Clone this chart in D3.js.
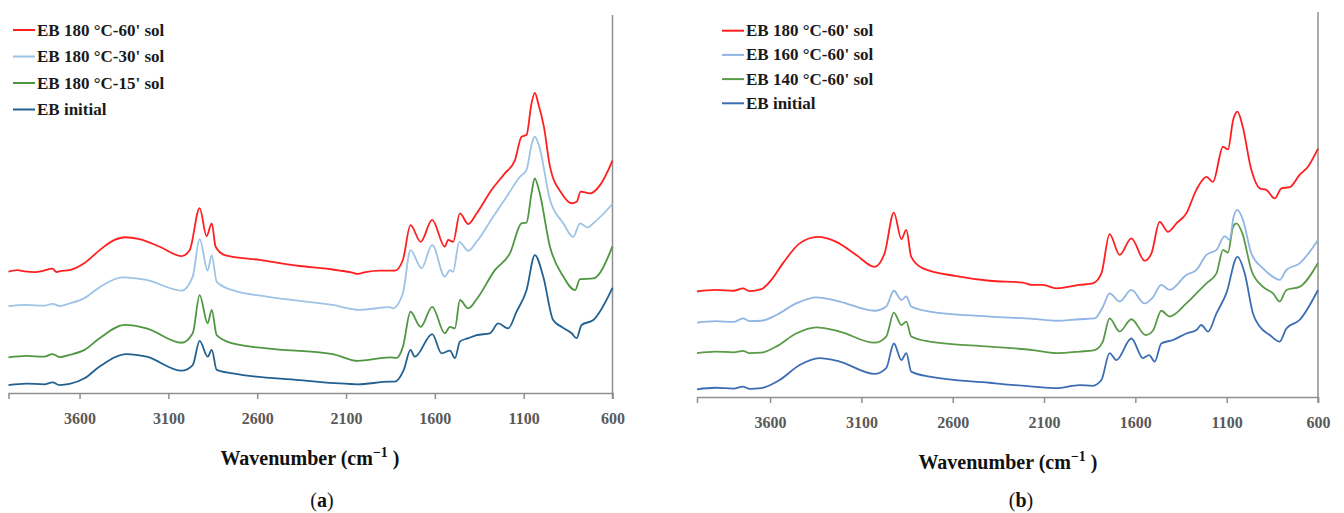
<!DOCTYPE html>
<html>
<head>
<meta charset="utf-8">
<script src="https://cdn.jsdelivr.net/npm/d3@7"></script>
<style>
  body { margin: 0; background: #fff; }
  svg { display: block; font-family: "Liberation Serif", "DejaVu Serif", serif; }
</style>
</head>
<body>
<script>
// tick labels shared by both panels
const tickValues = [3600, 3100, 2600, 2100, 1600, 1100, 600];

// legend labels, top to bottom
const labelsA = ["EB 180 °C-60' sol", "EB 180 °C-30' sol", "EB 180 °C-15' sol", "EB initial"];
const labelsB = ["EB 180 °C-60' sol", "EB 160 °C-60' sol", "EB 140 °C-60' sol", "EB initial"];

const colorsA = ["#ff1f1f", "#9dc3e6", "#4e9640", "#22618f"];
const colorsB = ["#ff1f1f", "#91b5e4", "#5a9a48", "#3c6db3"];

// spectra: [wavenumber cm-1, offset absorbance (a.u.)]
const a60 = [[4000,32.1],[3950,32.5],[3910,32.2],[3850,32.0],[3800,32.4],[3752,32.9],[3730,32.0],[3713,32.2],[3656,32.5],[3572,34.4],[3487,37.8],[3403,40.5],[3346,41.2],[3262,40.7],[3149,38.7],[3025,36.2],[2980,37.8],[2924,48.9],[2885,41.5],[2856,44.9],[2834,38.7],[2783,36.5],[2586,35.2],[2361,33.6],[2192,32.8],[2135,32.4],[2070,31.9],[2034,31.5],[1990,32.0],[1910,32.4],[1825,32.4],[1780,35.2],[1737,44.4],[1680,40.0],[1615,45.8],[1544,38.7],[1525,40.5],[1497,40.0],[1459,47.5],[1412,44.7],[1365,47.5],[1281,53.7],[1206,58.1],[1149,61.6],[1112,67.8],[1084,68.3],[1056,76.6],[1037,79.4],[1018,76.6],[986,70.4],[952,59.9],[886,52.8],[830,50.2],[802,50.6],[779,53.3],[727,52.8],[670,55.0],[600,61.5]];
const a30 = [[4000,23.0],[3900,23.3],[3800,23.1],[3752,23.6],[3713,23.0],[3656,23.7],[3572,25.1],[3487,28.0],[3358,30.6],[3223,29.9],[3025,27.1],[2963,30.8],[2924,40.7],[2879,32.4],[2856,36.5],[2828,29.4],[2738,27.2],[2546,25.5],[2175,23.3],[2023,22.0],[1854,22.7],[1837,22.4],[1780,26.4],[1737,37.8],[1675,33.0],[1615,39.2],[1544,30.8],[1515,32.5],[1497,32.1],[1463,40.0],[1412,37.6],[1365,40.0],[1272,46.6],[1196,51.9],[1121,57.2],[1084,59.0],[1056,65.6],[1038,67.8],[1012,65.2],[952,51.1],[877,44.9],[821,41.3],[783,44.9],[740,43.8],[708,44.9],[600,50.0]];
const a15 = [[4000,9.4],[3900,9.8],[3800,9.6],[3752,10.3],[3713,9.5],[3656,10.1],[3572,11.4],[3487,14.5],[3346,18.0],[3223,17.1],[3025,13.3],[2963,15.8],[2924,25.9],[2879,18.4],[2856,22.0],[2828,15.3],[2738,13.1],[2546,11.8],[2175,10.3],[2034,8.5],[1854,9.4],[1814,9.3],[1780,12.2],[1737,21.5],[1680,17.5],[1615,22.8],[1544,15.8],[1515,17.5],[1487,17.1],[1459,24.6],[1412,22.4],[1365,24.8],[1262,32.5],[1177,37.0],[1112,44.9],[1084,45.1],[1056,52.8],[1038,56.8],[1012,53.3],[952,38.7],[877,30.8],[811,27.2],[783,30.1],[708,30.3],[600,38.8]];
const aInit = [[4000,2.1],[3900,2.5],[3800,2.3],[3752,2.8],[3713,2.1],[3656,2.4],[3572,3.9],[3487,7.0],[3335,10.3],[3223,9.6],[3025,5.9],[2963,7.4],[2924,13.8],[2879,9.6],[2856,11.4],[2828,6.1],[2738,5.2],[2361,3.4],[2163,2.6],[2034,2.3],[1854,3.0],[1825,3.0],[1775,6.1],[1737,11.4],[1713,9.6],[1615,15.6],[1562,10.5],[1515,11.2],[1487,9.2],[1459,13.6],[1412,14.5],[1365,15.3],[1290,15.8],[1243,18.4],[1187,17.1],[1140,21.5],[1084,27.2],[1037,36.5],[990,30.8],[934,19.3],[887,17.5],[830,15.8],[802,14.5],[774,18.0],[708,19.3],[600,27.8]];

const b180 = [[4000,27.4],[3900,27.8],[3800,27.6],[3749,28.2],[3712,27.5],[3648,28.0],[3593,30.4],[3530,34.7],[3438,39.9],[3338,41.6],[3237,40.3],[3128,36.9],[3028,33.8],[2973,37.3],[2922,47.9],[2881,41.0],[2854,43.4],[2827,36.4],[2763,33.4],[2580,31.4],[2398,30.2],[2216,29.7],[2161,29.1],[2106,29.1],[2033,28.2],[1905,29.1],[1834,29.5],[1786,32.1],[1741,42.3],[1686,36.9],[1622,41.2],[1549,35.4],[1512,37.3],[1467,45.5],[1421,42.9],[1375,45.1],[1321,47.7],[1266,53.8],[1211,57.2],[1175,55.9],[1120,65.0],[1093,64.3],[1065,71.9],[1041,74.1],[1014,70.6],[965,59.0],[919,54.2],[883,53.8],[837,51.6],[800,54.2],[755,54.5],[701,57.7],[655,59.8],[600,64.5]];
const b160 = [[4000,19.3],[3900,19.7],[3800,19.5],[3749,20.4],[3712,19.7],[3648,19.8],[3566,21.3],[3457,24.3],[3347,25.9],[3219,24.8],[3028,22.4],[2964,23.5],[2922,27.6],[2881,25.2],[2854,26.1],[2827,23.5],[2727,22.2],[2398,20.9],[2161,20.3],[2033,19.8],[1905,20.2],[1823,20.4],[1777,23.5],[1741,26.9],[1686,24.8],[1622,27.8],[1549,24.3],[1504,25.9],[1458,29.1],[1412,27.8],[1321,31.7],[1266,33.0],[1211,36.9],[1156,38.2],[1111,41.8],[1084,40.8],[1062,46.8],[1041,48.6],[1011,46.0],[965,37.3],[901,33.4],[846,31.2],[810,30.4],[773,33.0],[701,34.7],[600,40.8]];
const b140 = [[4000,11.4],[3900,11.8],[3800,11.6],[3749,12.0],[3712,11.4],[3648,11.5],[3566,13.1],[3457,16.5],[3347,18.1],[3219,17.0],[3028,14.1],[2964,15.7],[2922,21.9],[2881,18.7],[2854,19.6],[2827,15.7],[2727,14.4],[2398,13.1],[2161,12.2],[2033,11.4],[1905,11.8],[1823,12.2],[1779,14.3],[1741,20.4],[1686,17.0],[1622,20.2],[1544,16.1],[1504,17.2],[1458,22.4],[1412,20.9],[1321,24.3],[1266,26.9],[1211,29.5],[1156,32.1],[1120,38.2],[1093,37.5],[1065,44.2],[1047,45.1],[1014,42.5],[965,33.0],[901,28.6],[846,26.9],[810,24.8],[773,27.8],[701,28.6],[600,34.8]];
const bInit = [[4000,2.0],[3900,2.4],[3800,2.2],[3749,2.7],[3712,2.1],[3648,2.3],[3548,4.4],[3438,8.3],[3329,10.1],[3219,9.2],[3028,6.0],[2964,7.5],[2922,13.9],[2881,9.6],[2854,11.4],[2827,6.6],[2727,5.3],[2398,3.7],[2161,2.7],[2033,2.3],[1905,3.1],[1834,2.9],[1786,4.4],[1741,11.4],[1704,9.6],[1622,15.2],[1558,10.1],[1525,10.9],[1494,9.2],[1458,13.9],[1394,14.8],[1321,16.5],[1266,17.4],[1239,18.7],[1202,17.0],[1156,21.7],[1102,26.9],[1041,36.4],[1001,32.1],[956,21.7],[919,18.3],[864,16.1],[810,14.4],[773,17.8],[701,20.0],[600,27.8]];

const width = 1344;
const height = 513;

const svg = d3.select("body").append("svg")
  .attr("width", width)
  .attr("height", height);

svg.append("rect")
  .attr("width", width)
  .attr("height", height)
  .attr("fill", "#fff");

const panels = [
  {
    series: [a60, a30, a15, aInit], labels: labelsA, colors: colorsA, tag: "a",
    left: 8.5, right: 612.5, top: 15, bottom: 393,
    legendX: 13, legendY: 30, legendStep: 26.5, titleX: 310, captionX: 322
  },
  {
    series: [b180, b160, b140, bInit], labels: labelsB, colors: colorsB, tag: "b",
    left: 697, right: 1318, top: 12, bottom: 397,
    legendX: 722, legendY: 30.7, legendStep: 24.2, titleX: 1008, captionX: 1021
  }
];

panels.forEach(drawPanel);

function drawPanel(p) {
  const x = d3.scaleLinear().domain([4000, 600]).range([p.left, p.right]);
  const y = d3.scaleLinear().domain([0, 100]).range([p.bottom, p.top]);

  const g = svg.append("g").attr("class", "panel-" + p.tag);

  // bottom axis
  const xAxis = g.append("g")
    .attr("transform", `translate(0,${p.bottom})`)
    .call(d3.axisBottom(x)
      .tickValues(tickValues)
      .tickFormat(d3.format("d"))
      .tickSizeOuter(0)
      .tickSize(6)
      .tickPadding(14));

  xAxis.select(".domain").attr("stroke", "#8f8f8f").attr("stroke-width", 1.5);
  xAxis.selectAll(".tick line").attr("stroke", "#8f8f8f").attr("stroke-width", 1.5);
  xAxis.selectAll(".tick text")
    .attr("fill", "#595959")
    .attr("font-size", 16)
    .attr("font-weight", "bold")
    .attr("font-family", "Liberation Serif, serif");

  // right-hand vertical axis line at 600 cm-1
  g.append("line")
    .attr("x1", x(600)).attr("x2", x(600))
    .attr("y1", y(100)).attr("y2", p.bottom + 6)
    .attr("stroke", "#8f8f8f")
    .attr("stroke-width", 1.5);

  const line = d3.line()
    .x(d => x(d[0]))
    .y(d => y(d[1]))
    .curve(d3.curveMonotoneX);

  // draw bottom series first so red sits on top
  p.series.slice().reverse().forEach((s, i) => {
    const k = p.series.length - 1 - i;
    g.append("path")
      .datum(s)
      .attr("fill", "none")
      .attr("stroke", p.colors[k])
      .attr("stroke-width", 1.8)
      .attr("stroke-linejoin", "round")
      .attr("d", line);
  });

  // legend
  const legend = g.append("g").attr("class", "legend");
  p.labels.forEach((label, i) => {
    const ly = p.legendY + i * p.legendStep;
    legend.append("line")
      .attr("x1", p.legendX).attr("x2", p.legendX + 22)
      .attr("y1", ly).attr("y2", ly)
      .attr("stroke", p.colors[i])
      .attr("stroke-width", 2);
    legend.append("text")
      .attr("x", p.legendX + 24)
      .attr("y", ly + 5.5)
      .attr("font-size", 17)
      .attr("font-weight", "bold")
      .attr("fill", "#1a1a1a")
      .text(label);
  });

  // axis title
  const title = g.append("text")
    .attr("x", p.titleX)
    .attr("y", p.bottom + 72)
    .attr("text-anchor", "middle")
    .attr("font-size", 20)
    .attr("font-weight", "bold")
    .attr("fill", "#111");
  title.append("tspan").text("Wavenumber (cm");
  title.append("tspan").attr("font-size", 14).attr("dy", -8).text("\u22121");
  title.append("tspan").attr("dy", 8).text(" )");

  // panel caption
  const cap = g.append("text")
    .attr("x", p.captionX)
    .attr("y", 507)
    .attr("text-anchor", "middle")
    .attr("font-size", 20)
    .attr("fill", "#111");
  cap.append("tspan").text("(");
  cap.append("tspan").attr("font-weight", "bold").text(p.tag);
  cap.append("tspan").text(")");
}
</script>
</body>
</html>
